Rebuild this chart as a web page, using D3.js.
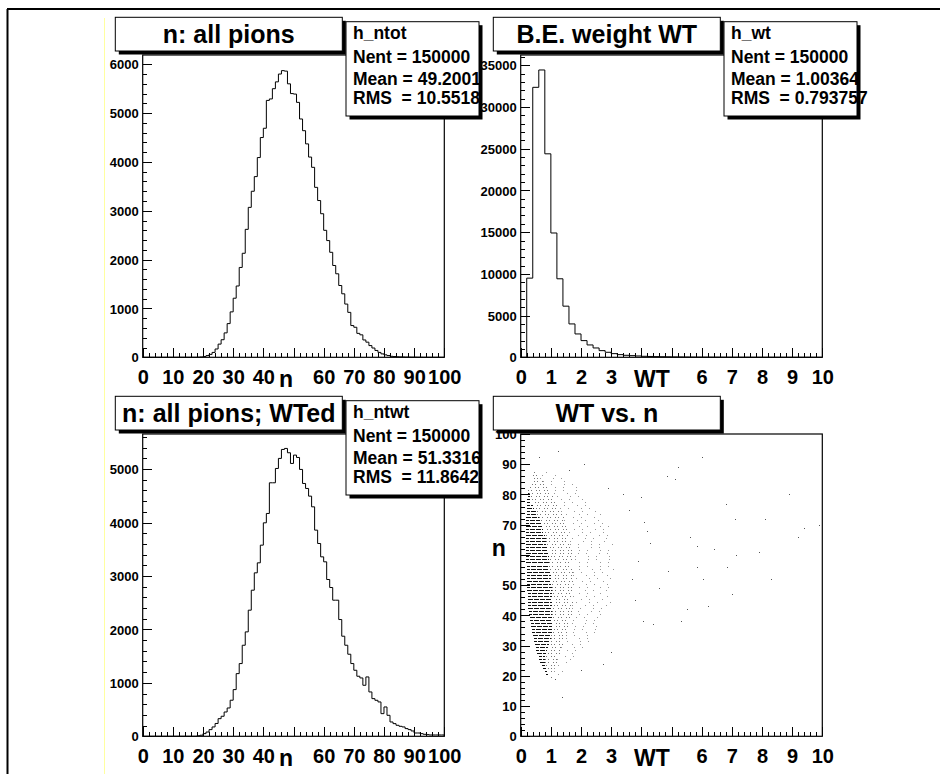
<!DOCTYPE html>
<html>
<head>
<meta charset="utf-8">
<script src="https://cdn.jsdelivr.net/npm/d3@7"></script>
<style>
body{margin:0;background:#fff;}
svg{display:block;font-family:"Liberation Sans",Arial,Helvetica,sans-serif;font-weight:bold;}
</style>
</head>
<body>
<svg id="canvas" width="940" height="774"></svg>
<script>
/** histogram contents */
// h_ntot : n, 100 bins from 0 to 100
var ntotCounts = [
	0,0,0,0,0,0,0,0,0,0, 0,0,0,0,0,0,0,0,2,6,
	15,35,60,100,170,270,360,500,690,930,
	1210,1460,1840,2130,2620,3070,3400,3700,4090,4500,
	4690,5260,5290,5500,5640,5800,5870,5860,5600,5400,
	5390,5220,4880,4640,4370,4100,3890,3480,3210,2940,
	2600,2390,2150,1880,1710,1470,1300,1090,920,650,
	615,490,460,355,310,240,190,140,100,70,
	50,35,20,15,10,8,6,4,3,2,
	2,1,1,0,0,0,0,0,0,0];
// h_wt : WT, 50 bins from 0 to 10
var wtCounts = [
	0,9490,32360,34440,24390,14900,9410,6130,4000,2800,
	2000,1480,1120,800,600,440,320,240,200,160,
	120,100,80,65,55,45,38,30,25,20,
	18,15,12,10,8,7,6,5,4,4,
	3,3,2,2,2,1,1,1,1,1];
// h_ntwt : n weighted by WT, 100 bins from 0 to 100
var ntwtCounts = [
	0,0,0,0,0,0,0,0,0,0, 0,0,0,0,0,0,0,0,10,20,
	50,80,125,175,240,330,375,455,530,675,
	874,1173,1361,1704,1954,2360,2734,3059,3246,3577,
	3995,4170,4744,4744,5012,5200,5368,5387,5306,5106,
	5262,5218,4994,4731,4638,4494,4294,3858,3608,3358,
	3265,2934,2784,2547,2547,2185,1873,1704,1536,1361,
	1236,1124,1092,955,1111,830,705,674,643,424,
	549,393,268,237,206,187,175,144,125,100,
	62,62,50,37,31,25,25,25,25,25];
// WT vs n : per n row, [n, WT start, end of dense part, end of medium part, end of sparse part]
var scatterRows = [
	[19,0.95,0.95,1.05,1.20],[20,0.85,0.90,1.05,1.30],[21,0.80,0.88,1.10,1.40],
	[22,0.75,0.85,1.10,1.50],[23,0.70,0.80,1.15,1.60],[24,0.65,0.80,1.20,1.70],
	[25,0.60,0.80,1.20,1.70],[26,0.60,0.82,1.25,1.80],[27,0.55,0.85,1.30,1.90],
	[28,0.52,0.88,1.30,2.00],[29,0.50,0.92,1.35,2.10],[30,0.48,0.95,1.40,2.20],
	[31,0.45,0.98,1.45,2.30],[32,0.43,1.00,1.50,2.30],[33,0.40,1.02,1.50,2.40],
	[34,0.38,1.05,1.55,2.50],[35,0.37,1.05,1.55,2.50],[36,0.35,1.05,1.60,2.60],
	[37,0.33,1.05,1.60,2.70],[38,0.30,1.05,1.65,2.70],[39,0.30,1.05,1.65,2.80],
	[40,0.27,1.05,1.70,2.90],[41,0.26,1.05,1.70,2.90],[42,0.25,1.05,1.70,2.80],
	[43,0.25,1.05,1.70,2.90],[44,0.24,1.05,1.75,3.00],[45,0.24,1.05,1.70,2.90],
	[46,0.23,1.05,1.75,3.00],[47,0.23,1.05,1.70,2.90],[48,0.22,1.05,1.75,3.10],
	[49,0.22,1.05,1.70,3.00],[50,0.21,1.00,1.75,3.10],[51,0.21,1.00,1.75,3.00],
	[52,0.20,1.00,1.75,3.10],[53,0.20,1.00,1.75,3.10],[54,0.20,1.00,1.75,3.00],
	[55,0.20,0.95,1.75,3.10],[56,0.20,0.95,1.70,3.00],[57,0.19,0.95,1.75,3.10],
	[58,0.19,0.95,1.70,3.00],[59,0.19,0.95,1.70,3.10],[60,0.19,0.90,1.70,3.00],
	[61,0.18,0.90,1.70,3.10],[62,0.18,0.90,1.70,3.00],[63,0.18,0.85,1.65,3.10],
	[64,0.18,0.85,1.65,3.00],[65,0.18,0.85,1.60,3.00],[66,0.18,0.80,1.60,3.10],
	[67,0.18,0.75,1.60,3.00],[68,0.18,0.75,1.55,2.90],[69,0.18,0.70,1.55,3.00],
	[70,0.18,0.70,1.50,2.90],[71,0.18,0.65,1.45,2.80],[72,0.18,0.60,1.45,2.70],
	[73,0.20,0.55,1.40,2.70],[74,0.20,0.50,1.35,2.60],[75,0.20,0.45,1.30,2.50],
	[76,0.20,0.40,1.25,2.50],[77,0.20,0.35,1.20,2.40],[78,0.22,0.32,1.15,2.30],
	[79,0.25,0.30,1.10,2.20],[80,0.25,0.28,1.00,2.10],[81,0.25,0.25,0.95,2.00],
	[82,0.28,0.28,0.90,1.90],[83,0.30,0.30,0.80,1.80],[84,0.30,0.30,0.75,1.60],
	[85,0.32,0.32,0.65,1.40],[86,0.35,0.35,0.60,1.20],[87,0.40,0.40,0.55,1.00]];
// WT vs n : isolated points [WT, n]
var scatterOutliers = [
	[1.36,13],[1.25,94.4],[0.60,92.3],[6.00,92.3],[5.20,89],[8.90,80],[6.80,77],
	[9.40,69],[9.90,70],[8.10,72],[7.10,72],[9.20,66],[7.90,61],[7.15,60],[6.84,56],
	[8.30,52],[6.05,52],[7.00,47],[6.20,43],[5.50,42],[5.30,38],[4.06,38],[4.40,37],
	[3.00,28],[2.74,24],[2.00,22],[1.14,19],[4.86,86],[5.10,85],[4.90,54.7],[5.86,56],
	[6.40,62],[5.85,63],[3.60,75],[4.20,68],[3.90,58],[4.60,49],[3.80,45],[4.30,64],
	[3.70,52],[4.10,71],[5.60,66],[2.10,90],[1.60,88],[2.90,82],[3.40,80],[4.00,79]];

/** texts */
var nLabels = [0,10,20,30,40,60,70,80,90,100];
var wtLabels = [0,1,2,3,6,7,8,9,10];
var nYLabels = [0,10,20,30,40,50,70,80,90,100];
var titles = ["n: all pions","B.E. weight WT","n: all pions; WTed","WT vs. n"];
var statsNtot = ["h_ntot","Nent = 150000","Mean = 49.2001","RMS  = 10.5518"];
var statsWt = ["h_wt","Nent = 150000","Mean = 1.00364","RMS  = 0.793757"];
var statsNtwt = ["h_ntwt","Nent = 150000","Mean = 51.3316","RMS  = 11.8642"];

/** geometry of the first pad, the others are shifted */
var colOff = [0,378], rowOff = [0,379];
var frame = {x0:142.7, x1:444.3, y0:55, y1:357.3};
var titleBox = {x0:115.3, x1:342.3, y0:17.3, y1:51};
var statsBox = {x0:346, x1:479, y0:21.7, y1:116};
var statsBaselines = [39, 62.5, 85.3, 104.3];

var svg = d3.select("#canvas");
svg.append("rect").attr("width",940).attr("height",774).attr("fill","#fff");
// canvas border and pad edge
svg.append("line").attr("x1",7).attr("x2",940).attr("y1",9).attr("y2",9).attr("stroke","#000").attr("stroke-width",2);
svg.append("line").attr("x1",7.5).attr("x2",7.5).attr("y1",9).attr("y2",774).attr("stroke","#000").attr("stroke-width",2);
svg.append("line").attr("x1",104.5).attr("x2",104.5).attr("y1",18).attr("y2",774).attr("stroke","#ffffa0").attr("stroke-width",1);

var pads = [
	{col:0,row:0,title:titles[0],stats:statsNtot,xMax:100,yMax:6190,counts:ntotCounts,
	 xMajor:10,xMinor:2,xLabels:nLabels,xTitle:"n",xTitleAt:47.5,yMajor:1000,yMinor:200,yLabelsMax:6000},
	{col:1,row:0,title:titles[1],stats:statsWt,xMax:10,yMax:36235,counts:wtCounts,
	 xMajor:1,xMinor:0.2,xLabels:wtLabels,xTitle:"WT",xTitleAt:4.35,yMajor:5000,yMinor:1000,yLabelsMax:35000},
	{col:0,row:1,title:titles[2],stats:statsNtwt,xMax:100,yMax:5657,counts:ntwtCounts,
	 xMajor:10,xMinor:2,xLabels:nLabels,xTitle:"n",xTitleAt:47.5,yMajor:1000,yMinor:200,yLabelsMax:5000},
	{col:1,row:1,title:titles[3],stats:null,xMax:10,yMax:100,counts:null,
	 xMajor:1,xMinor:0.2,xLabels:wtLabels,xTitle:"WT",xTitleAt:4.35,yMajor:10,yMinor:2,yLabelsMax:100,
	 yLabels:nYLabels,yTitle:"n",yTitleAt:61.6}
];

function steps(max, step){
	var out = [], k;
	for(k=0; k*step <= max+1e-9; k++) out.push(+(k*step).toFixed(6));
	return out;
}

pads.forEach(drawPad);

function drawPad(p){
	var dx = colOff[p.col], dy = rowOff[p.row];
	var g = svg.append("g");
	var x = d3.scaleLinear().domain([0,p.xMax]).range([frame.x0+dx, frame.x1+dx]);
	var y = d3.scaleLinear().domain([0,p.yMax]).range([frame.y1+dy, frame.y0+dy]);

	g.append("rect")
	.attr("x",x(0)).attr("y",y(p.yMax))
	.attr("width",x(p.xMax)-x(0)).attr("height",y(0)-y(p.yMax))
	.attr("fill","#fff").attr("stroke","#000").attr("stroke-width",1.2);

	// contents
	if(p.counts){
		var bw = p.xMax/p.counts.length;
		var pts = [[0,0]];
		p.counts.forEach(function(c,i){ pts.push([i*bw,c]); pts.push([(i+1)*bw,c]); });
		pts.push([p.xMax,0]);
		g.append("path")
		.attr("d", d3.line().x(function(d){return x(d[0]);}).y(function(d){return y(d[1]);})(pts))
		.attr("fill","none").attr("stroke","#000").attr("stroke-width",1);
	}
	else drawScatter(g,x,y);

	// axes : ticks inside the frame
	var xMaj = steps(p.xMax,p.xMajor), xMin = steps(p.xMax,p.xMinor);
	var yMaj = steps(p.yLabelsMax,p.yMajor), yMin = steps(p.yMax,p.yMinor);
	var fmt = d3.format("d");

	g.append("g").attr("transform","translate(0,"+y(0)+")")
	.call(d3.axisBottom(x).tickValues(xMin).tickSizeInner(-4.5).tickSizeOuter(0).tickFormat(""))
	.call(cleanAxis);
	g.append("g").attr("transform","translate(0,"+y(0)+")")
	.call(d3.axisBottom(x).tickValues(xMaj).tickSizeInner(-9).tickSizeOuter(0)
		.tickFormat(function(d){return p.xLabels.indexOf(d) >= 0 ? fmt(d) : "";}))
	.call(cleanAxis)
	.selectAll("text").attr("y",26.7).attr("dy",null).style("font-size","20px");

	g.append("g").attr("transform","translate("+x(0)+",0)")
	.call(d3.axisLeft(y).tickValues(yMin).tickSizeInner(-4.5).tickSizeOuter(0).tickFormat(""))
	.call(cleanAxis);
	g.append("g").attr("transform","translate("+x(0)+",0)")
	.call(d3.axisLeft(y).tickValues(yMaj).tickSizeInner(-9).tickSizeOuter(0).tickPadding(4)
		.tickFormat(function(d){return (!p.yLabels || p.yLabels.indexOf(d) >= 0) ? fmt(d) : "";}))
	.call(cleanAxis)
	.selectAll("text").attr("dy","0.36em").style("font-size","13px");

	// axis titles
	g.append("text").attr("x",x(p.xTitleAt)).attr("y",y(0)+29.5)
	.attr("text-anchor","middle").style("font-size","23px").text(p.xTitle);
	if(p.yTitle){
		g.append("text").attr("x",x(0)-22).attr("y",y(p.yTitleAt)+6)
		.attr("text-anchor","middle").style("font-size","23px").text(p.yTitle);
	}

	// title and stats boxes drawn last, they sit on top
	drawBox(g, titleBox.x0+dx, titleBox.y0+dy, titleBox.x1-titleBox.x0, titleBox.y1-titleBox.y0);
	g.append("text")
	.attr("x",(titleBox.x0+titleBox.x1)/2+dx).attr("y",titleBox.y0+dy+25.3)
	.attr("text-anchor","middle").style("font-size","25px").text(p.title);

	if(p.stats){
		drawBox(g, statsBox.x0+dx, statsBox.y0+dy, statsBox.x1-statsBox.x0, statsBox.y1-statsBox.y0);
		g.selectAll(null).data(p.stats).enter().append("text")
		.attr("x",statsBox.x0+dx+7)
		.attr("y",function(d,i){return statsBaselines[i]+dy;})
		.style("font-size","17.5px").style("white-space","pre")
		.attr("xml:space","preserve")
		.text(function(d){return d;});
	}
}

function cleanAxis(sel){
	sel.select(".domain").remove();
	sel.selectAll("line").attr("stroke","#000").attr("shape-rendering","crispEdges");
	sel.attr("font-family",null).attr("font-size",null);
	sel.selectAll("text").attr("fill","#000");
}

function drawBox(g, bx, by, bw, bh){
	g.append("rect").attr("x",bx+3.5).attr("y",by+3.5).attr("width",bw).attr("height",bh).attr("fill","#000");
	g.append("rect").attr("x",bx).attr("y",by).attr("width",bw).attr("height",bh)
	.attr("fill","#fff").attr("stroke","#000").attr("stroke-width",1);
}

function drawScatter(g,x,y){
	var rows = g.append("g").attr("shape-rendering","crispEdges");
	// dash phase jumps from row to row so the dots do not line up in columns or diagonals
	function seg(a,b,dash,period,col){
		rows.selectAll(null).data(scatterRows.filter(function(r){return r[b] > r[a];})).enter().append("line")
		.attr("x1",function(r){return x(r[a]);}).attr("x2",function(r){return x(r[b]);})
		.attr("y1",function(r){return Math.round(y(r[0]+0.5))+0.5;})
		.attr("y2",function(r){return Math.round(y(r[0]+0.5))+0.5;})
		.attr("stroke",col).attr("stroke-width",1).attr("stroke-dasharray",dash)
		.attr("stroke-dashoffset",function(r){return (r[0]*r[0]*5 + r[0]*3)%period;});
	}
	seg(1,2,"5,1",6,"#111");
	seg(2,3,"1,2,1,4",8,"#777");
	seg(3,4,"1,7,1,12",21,"#999");
	g.selectAll(null).data(scatterOutliers).enter().append("rect")
	.attr("x",function(d){return Math.round(x(d[0]));}).attr("y",function(d){return Math.round(y(d[1]));})
	.attr("width",1).attr("height",1).attr("fill","#555");
}
</script>
</body>
</html>
